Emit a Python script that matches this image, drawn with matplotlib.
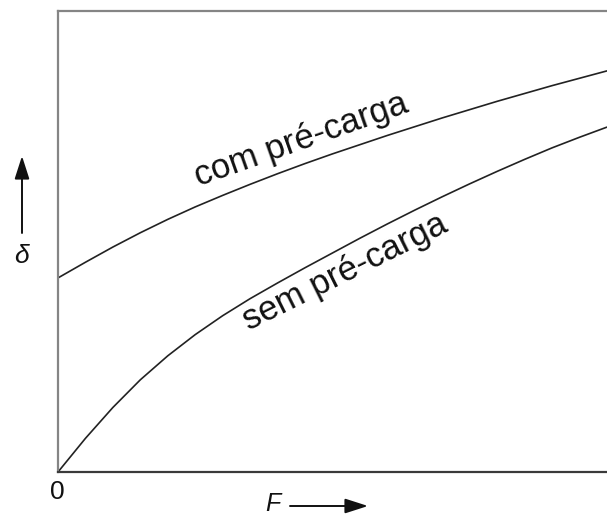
import matplotlib
matplotlib.use("Agg")
import matplotlib.pyplot as plt

plt.rcParams['font.family'] = ['Liberation Sans', 'DejaVu Sans']

# Force F (0-100) and deflection delta (0-100), arbitrary units
force = [0, 5, 10, 15, 20, 25, 30, 35, 40, 45, 50,
         55, 60, 65, 70, 75, 80, 85, 90, 95, 100]
delta_com = [42.1, 45.5, 48.8, 51.9, 54.8, 57.5, 60.0, 62.4, 64.7, 66.9, 69.0,
             71.0, 73.0, 74.9, 76.8, 78.6, 80.4, 82.1, 83.8, 85.4, 87.0]
delta_sem = [0, 7.3, 14.0, 20.0, 25.2, 29.8, 33.9, 37.6, 41.0, 44.3, 47.5,
             50.7, 53.8, 56.8, 59.7, 62.5, 65.2, 67.8, 70.3, 72.6, 74.8]

label_com = "com pré-carga"
label_sem = "sem pré-carga"
zero_label = "0"
x_label = "F"
y_label = "δ"

W, H = 607, 515
fig = plt.figure(figsize=(W / 100, H / 100), dpi=100)
ax = fig.add_axes([58 / W, 43 / H, 551 / W, 461 / H])

line_kw = dict(color="#222222", lw=1.2, solid_capstyle="round",
               solid_joinstyle="round")
ax.plot(force, delta_com, **line_kw)
ax.plot(force, delta_sem, **line_kw)

ax.set_xlim(0, 100.4)
ax.set_ylim(0, 100)
ax.set_xticks([])
ax.set_yticks([])

for side in ("left", "top"):
    ax.spines[side].set_color("#858585")
    ax.spines[side].set_linewidth(1.6)
ax.spines["bottom"].set_color("#3a3a3a")
ax.spines["bottom"].set_linewidth(1.6)
ax.spines["right"].set_visible(False)

# curve labels along the curves
ax.text(44.8, 70.0, label_com, fontsize=25, rotation=19.5,
        rotation_mode="anchor", ha="center", va="baseline", color="#111111")
ax.text(53.0, 41.5, label_sem, fontsize=25, rotation=26.5,
        rotation_mode="anchor", ha="center", va="baseline", color="#111111")

# origin label
fig.text(57 / W, (H - 492) / H, zero_label, fontsize=19, ha="center",
         va="center", color="#111111")

# axis labels with arrows
fig.text(273 / W, (H - 504) / H, x_label, fontsize=18, style="italic",
         ha="center", va="center", color="#111111")
ax.annotate("", xy=(368, 9), xytext=(290, 9),
            xycoords="figure pixels", textcoords="figure pixels",
            arrowprops=dict(arrowstyle="-|>,head_length=1.4,head_width=0.45",
                            color="#111111", lw=1.4, shrinkA=0, shrinkB=0))

fig.text(21 / W, (H - 256) / H, y_label, fontsize=19, style="italic",
         ha="center", va="center", color="#111111")
ax.annotate("", xy=(22, H - 156), xytext=(22, H - 233),
            xycoords="figure pixels", textcoords="figure pixels",
            arrowprops=dict(arrowstyle="-|>,head_length=1.4,head_width=0.45",
                            color="#111111", lw=1.4, shrinkA=0, shrinkB=0))

fig.savefig("out.png", dpi=100)
